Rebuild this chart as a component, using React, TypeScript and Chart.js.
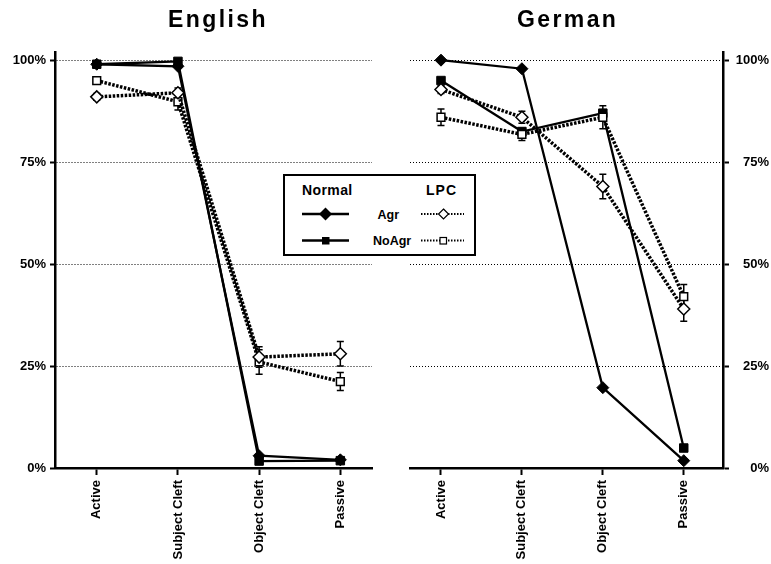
import React, { useEffect, useRef } from "react";
import { Chart, registerables } from "chart.js";
Chart.register(...registerables);

const FONT = "'Liberation Sans', Arial, Helvetica, sans-serif";
Chart.defaults.font.family = FONT;
Chart.defaults.color = "#000";

const categories = ["Active", "Subject Cleft", "Object Cleft", "Passive"];
const yTicks = [0, 25, 50, 75, 100];

const englishNormalAgr = [99, 98.5, 3, 2];
const englishNormalNoAgr = [99, 99.7, 1.7, 1.8];
const englishLpcAgr = [91, 92, 27.2, 28];
const englishLpcNoAgr = [95, 89.8, 26, 21.2];
const englishLpcAgrErr = [0.8, 1.2, 2.5, 3];
const englishLpcNoAgrErr = [0.8, 2, 3, 2.2];

const germanNormalAgr = [100, 97.9, 19.7, 1.8];
const germanNormalNoAgr = [95, 82.5, 87, 4.9];
const germanLpcAgr = [92.8, 86, 69, 39];
const germanLpcNoAgr = [86, 81.8, 86, 42];
const germanLpcAgrErr = [1, 1.5, 3, 3];
const germanLpcNoAgrErr = [2, 1.5, 2.8, 3];

const errorBarPlugin = {
  id: "errorBars",
  beforeDatasetsDraw(chart: any) {
    const ctx = chart.ctx;
    const ys = chart.scales.y;
    ctx.save();
    ctx.strokeStyle = "#000";
    ctx.lineWidth = 1.5;
    chart.data.datasets.forEach((ds: any, i: number) => {
      const errs = ds.errors;
      if (!errs) return;
      const meta = chart.getDatasetMeta(i);
      meta.data.forEach((pt: any, j: number) => {
        const v = ds.data[j].y;
        const e = errs[j];
        const top = ys.getPixelForValue(v + e);
        const bot = ys.getPixelForValue(v - e);
        ctx.beginPath();
        ctx.moveTo(pt.x, top);
        ctx.lineTo(pt.x, bot);
        ctx.moveTo(pt.x - 3.5, top);
        ctx.lineTo(pt.x + 3.5, top);
        ctx.moveTo(pt.x - 3.5, bot);
        ctx.lineTo(pt.x + 3.5, bot);
        ctx.stroke();
      });
    });
    ctx.restore();
  },
};

function pts(arr: number[]) {
  return arr.map((y, i) => ({ x: i, y }));
}

function makeDatasets(
  nAgr: number[],
  nNoAgr: number[],
  lAgr: number[],
  lNoAgr: number[],
  lAgrErr: number[],
  lNoAgrErr: number[]
) {
  const lpcBase = {
    borderColor: "#000",
    borderWidth: 3.5,
    borderDash: [2.5, 1.5],
    pointRadius: 6,
    pointBackgroundColor: "#fff",
    pointBorderColor: "#000",
    pointBorderWidth: 1.5,
    tension: 0,
    fill: false,
  };
  const normBase = {
    borderColor: "#000",
    borderWidth: 2.3,
    pointRadius: 6,
    pointBackgroundColor: "#000",
    pointBorderColor: "#000",
    pointBorderWidth: 1,
    tension: 0,
    fill: false,
  };
  return [
    { ...lpcBase, label: "LPC Agr", data: pts(lAgr), errors: lAgrErr, pointStyle: "rectRot" },
    { ...lpcBase, label: "LPC NoAgr", data: pts(lNoAgr), errors: lNoAgrErr, pointStyle: "rect", pointRadius: 5.5 },
    { ...normBase, label: "Normal Agr", data: pts(nAgr), pointStyle: "rectRot" },
    { ...normBase, label: "Normal NoAgr", data: pts(nNoAgr), pointStyle: "rect", pointRadius: 6 },
  ];
}

function makeConfig(side: "left" | "right", datasets: any[], xMin: number, xMax: number): any {
  const isLeft = side === "left";
  return {
    type: "line",
    data: { datasets },
    options: {
      animation: false,
      responsive: false,
      events: [],
      layout: {
        padding: isLeft
          ? { top: 52, left: 0, right: 13, bottom: 0 }
          : { top: 52, left: 25, right: 2, bottom: 0 },
      },
      plugins: {
        legend: { display: false },
        tooltip: { enabled: false },
        title: { display: false },
      },
      scales: {
        x: {
          type: "linear",
          min: xMin,
          max: xMax,
          bounds: "data",
          afterBuildTicks: (s: any) => {
            s.ticks = categories.map((_, i) => ({ value: i }));
          },
          afterFit: (s: any) => {
            s.height = 96;
          },
          ticks: {
            callback: (v: any) => categories[v] ?? "",
            minRotation: 90,
            maxRotation: 90,
            autoSkip: false,
            font: { size: 13, weight: "bold" },
            color: "#000",
            padding: 5,
          },
          grid: {
            drawOnChartArea: false,
            drawTicks: true,
            tickLength: 7,
            tickWidth: 2,
            tickColor: "#000",
          },
          border: { display: true, color: "#000", width: 2.5 },
        },
        y: {
          type: "linear",
          position: side,
          min: 0,
          max: 102,
          bounds: "data",
          afterBuildTicks: (s: any) => {
            s.ticks = yTicks.map((v) => ({ value: v }));
          },
          afterFit: (s: any) => {
            s.width = isLeft ? 55 : 46;
          },
          ticks: {
            callback: (v: any) => v + "%",
            font: { size: 13, weight: "bold" },
            color: "#000",
            padding: isLeft ? 4 : 7,
            crossAlign: isLeft ? "near" : "far",
          },
          grid: {
            color: (c: any) => (c.tick && c.tick.value === 0 ? "rgba(0,0,0,0)" : "#000"),
            lineWidth: 1,
            drawTicks: true,
            tickLength: isLeft ? 5 : 6,
            tickWidth: 2,
            tickColor: "#000",
          },
          border: { display: true, color: "#000", width: 2.5, dash: [1, 2] },
        },
      },
    },
    plugins: [errorBarPlugin],
  };
}

function Panel(props: { side: "left" | "right"; datasets: any[]; xMin: number; xMax: number; left: number; width: number }) {
  const ref = useRef<HTMLCanvasElement>(null);
  useEffect(() => {
    const chart = new Chart(ref.current as HTMLCanvasElement, makeConfig(props.side, props.datasets, props.xMin, props.xMax));
    return () => chart.destroy();
  }, []);
  return (
    <canvas
      ref={ref}
      width={props.width}
      height={564}
      style={{ position: "absolute", left: props.left, top: 0, width: props.width, height: 564 }}
    />
  );
}

const titleStyle: React.CSSProperties = {
  position: "absolute",
  top: 8,
  fontFamily: FONT,
  fontSize: 23,
  fontWeight: "bold",
  lineHeight: "23px",
  letterSpacing: "2.4px",
  whiteSpace: "nowrap",
  color: "#000",
};

const legendText = (size: number, ls: number): React.CSSProperties => ({
  position: "absolute",
  fontFamily: FONT,
  fontSize: size,
  fontWeight: "bold",
  lineHeight: size + "px",
  letterSpacing: ls + "px",
  whiteSpace: "nowrap",
  color: "#000",
});

export default function App() {
  const englishSets = makeDatasets(englishNormalAgr, englishNormalNoAgr, englishLpcAgr, englishLpcNoAgr, englishLpcAgrErr, englishLpcNoAgrErr);
  const germanSets = makeDatasets(germanNormalAgr, germanNormalNoAgr, germanLpcAgr, germanLpcNoAgr, germanLpcAgrErr, germanLpcNoAgrErr);
  return (
    <div style={{ position: "absolute", left: 0, top: 0, width: 771, height: 564, background: "#fff", overflow: "hidden" }}>
      <Panel side="left" datasets={englishSets} xMin={-0.514} xMax={3.39} left={0} width={385} />
      <Panel side="right" datasets={germanSets} xMin={-0.383} xMax={3.485} left={385} width={386} />
      <div style={{ ...titleStyle, left: 168 }}>English</div>
      <div style={{ ...titleStyle, left: 517 }}>German</div>
      <div
        style={{
          position: "absolute",
          left: 283,
          top: 174,
          width: 193,
          height: 82,
          border: "2px solid #000",
          boxSizing: "border-box",
          background: "#fff",
        }}
      />
      <div style={{ ...legendText(14, 0.4), left: 302, top: 183 }}>Normal</div>
      <div style={{ ...legendText(14, 1), left: 426, top: 183 }}>LPC</div>
      <div style={{ ...legendText(12.5, 0), left: 377.5, top: 209 }}>Agr</div>
      <div style={{ ...legendText(12.5, 0), left: 373, top: 235 }}>NoAgr</div>
      <svg width={771} height={564} style={{ position: "absolute", left: 0, top: 0, pointerEvents: "none" }}>
        <line x1={302} y1={214} x2={349} y2={214} stroke="#000" strokeWidth={2.5} />
        <polygon points="325.5,207.5 332,214 325.5,220.5 319,214" fill="#000" />
        <line x1={302} y1={240.5} x2={349} y2={240.5} stroke="#000" strokeWidth={2.5} />
        <rect x={322} y={237} width={7.5} height={7.5} fill="#000" />
        <line x1={421} y1={214} x2={464} y2={214} stroke="#000" strokeWidth={2} strokeDasharray="1.5 1.5" />
        <polygon points="443.5,209 448.5,214 443.5,219 438.5,214" fill="#fff" stroke="#000" strokeWidth={1.2} />
        <line x1={421} y1={240.5} x2={464} y2={240.5} stroke="#000" strokeWidth={2} strokeDasharray="1.5 1.5" />
        <rect x={440} y={237.5} width={6.5} height={6.5} fill="#fff" stroke="#000" strokeWidth={1.2} />
      </svg>
    </div>
  );
}
